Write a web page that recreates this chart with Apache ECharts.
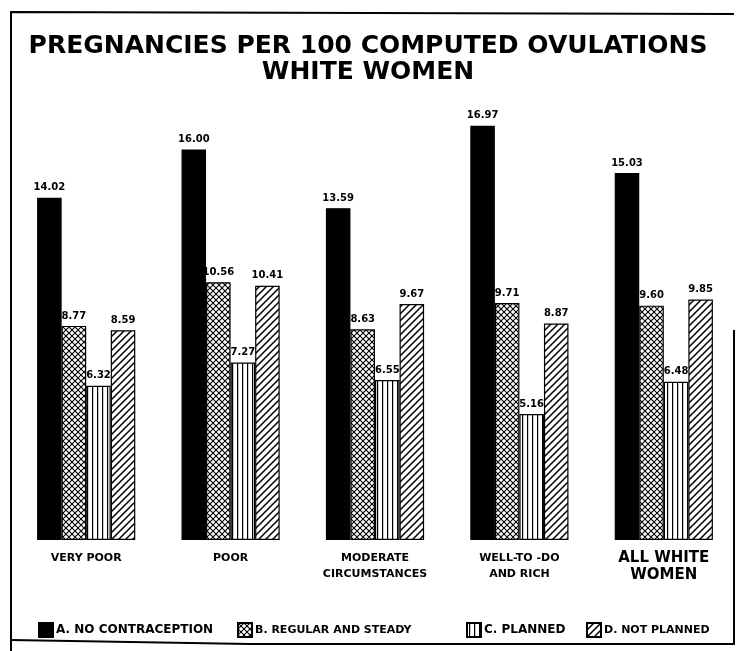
<!DOCTYPE html>
<html>
<head>
<meta charset="utf-8">
<title>Pregnancies per 100 computed ovulations</title>
<script src="https://cdn.jsdelivr.net/npm/echarts@6/dist/echarts.min.js"></script>
<style>
  html, body { margin: 0; padding: 0; background: #fff; }
  #chart { width: 736px; height: 651px; }
</style>
</head>
<body>
<div id="chart"></div>
<script>
// data
var categories = ['VERY POOR', 'POOR', 'MODERATE\nCIRCUMSTANCES', 'WELL-TO -DO\nAND RICH', 'ALL WHITE\nWOMEN'];
var seriesNames = ['A. NO CONTRACEPTION', 'B. REGULAR AND STEADY', 'C. PLANNED', 'D. NOT PLANNED'];
var noContraception = [14.02, 16.00, 13.59, 16.97, 15.03];
var regularSteady = [8.77, 10.56, 8.63, 9.71, 9.60];
var planned = [6.32, 7.27, 6.55, 5.16, 6.48];
var notPlanned = [8.59, 10.41, 9.67, 8.87, 9.85];

var FONT = '"DejaVu Sans", sans-serif';

// hatch patterns drawn on small canvases
function makePattern(kind) {
    var c = document.createElement('canvas');
    var ctx = c.getContext('2d');
    var s;
    if (kind === 'cross') {
        s = 6;
        c.width = s; c.height = s;
        ctx.fillStyle = '#fff';
        ctx.fillRect(0, 0, s, s);
        ctx.strokeStyle = '#000';
        ctx.lineWidth = 1.1;
        ctx.beginPath();
        ctx.moveTo(0, 0); ctx.lineTo(s, s);
        ctx.moveTo(s, 0); ctx.lineTo(0, s);
        ctx.stroke();
    } else if (kind === 'vert') {
        s = 5;
        c.width = s; c.height = s;
        ctx.fillStyle = '#fff';
        ctx.fillRect(0, 0, s, s);
        ctx.fillStyle = '#000';
        ctx.fillRect(2, 0, 1.2, s);
    } else {
        s = 7;
        c.width = s; c.height = s;
        ctx.fillStyle = '#fff';
        ctx.fillRect(0, 0, s, s);
        ctx.strokeStyle = '#000';
        ctx.lineWidth = 1.5;
        ctx.beginPath();
        ctx.moveTo(-1, s + 1); ctx.lineTo(s + 1, -1);
        ctx.moveTo(-1, 1); ctx.lineTo(1, -1);
        ctx.moveTo(s - 1, s + 1); ctx.lineTo(s + 1, s - 1);
        ctx.stroke();
    }
    return {image: c, repeat: 'repeat'};
}

var fills = ['#000', makePattern('cross'), makePattern('vert'), makePattern('diag')];
var values = [noContraception, regularSteady, planned, notPlanned];

var series = [];
for (var i = 0; i < 4; i++) {
    series.push({
        name: seriesNames[i],
        type: 'bar',
        data: values[i],
        barGap: '0%',
        barCategoryGap: '32%',
        itemStyle: {
            color: fills[i],
            borderColor: '#000',
            borderWidth: 1.2
        },
        label: {
            show: true,
            position: 'top',
            distance: 5,
            color: '#000',
            fontFamily: FONT,
            fontWeight: 'bold',
            fontSize: 10,
            formatter: function (p) {
                return p.value.toFixed(2);
            }
        }
    });
}

// one legend per item so each can sit where the original has it
var legendLeft = [33, 232, 461, 581];
var legendFont = [12, 11, 12, 11];
var legends = [];
for (var j = 0; j < 4; j++) {
    legends.push({
        data: [{name: seriesNames[j], icon: 'rect'}],
        left: legendLeft[j],
        top: 617,
        itemWidth: 14,
        itemHeight: 14,
        selectedMode: false,
        textStyle: {
            color: '#000',
            fontFamily: FONT,
            fontWeight: 'bold',
            fontSize: legendFont[j],
            padding: [2, 0, 0, -2]
        }
    });
}

var option = {
    backgroundColor: '#fff',
    animation: false,
    title: {
        text: 'PREGNANCIES PER 100 COMPUTED OVULATIONS\nWHITE WOMEN',
        left: 'center',
        top: 28,
        textStyle: {
            color: '#000',
            fontFamily: FONT,
            fontWeight: 'bold',
            fontSize: 25,
            lineHeight: 26
        }
    },
    legend: legends,
    grid: {
        left: 14,
        right: -4,
        top: 125,
        bottom: 111
    },
    xAxis: {
        type: 'category',
        data: categories,
        axisLine: {show: false},
        axisTick: {show: false},
        axisLabel: {
            margin: 10,
            interval: 0,
            color: '#000',
            fontFamily: FONT,
            fontWeight: 'bold',
            fontSize: 11,
            lineHeight: 16,
            formatter: function (v) {
                if (v.indexOf('ALL WHITE') === 0) {
                    return '{big|' + v.split('\n').join('}\n{big|') + '}';
                }
                return v;
            },
            rich: {
                big: {
                    fontFamily: FONT,
                    fontWeight: 'bold',
                    fontSize: 15,
                    lineHeight: 17,
                    color: '#000'
                }
            }
        }
    },
    yAxis: {
        type: 'value',
        min: 0,
        max: 17,
        show: false
    },
    graphic: [{
        type: 'polyline',
        shape: {points: [[734, 14], [11, 12], [11, 651]]},
        style: {stroke: '#000', lineWidth: 2, fill: null}
    }, {
        type: 'polyline',
        shape: {points: [[11, 640], [250, 644], [734, 644], [734, 330]]},
        style: {stroke: '#000', lineWidth: 2, fill: null}
    }],
    series: series
};

var chart = echarts.init(document.getElementById('chart'));
chart.setOption(option);
</script>
</body>
</html>
